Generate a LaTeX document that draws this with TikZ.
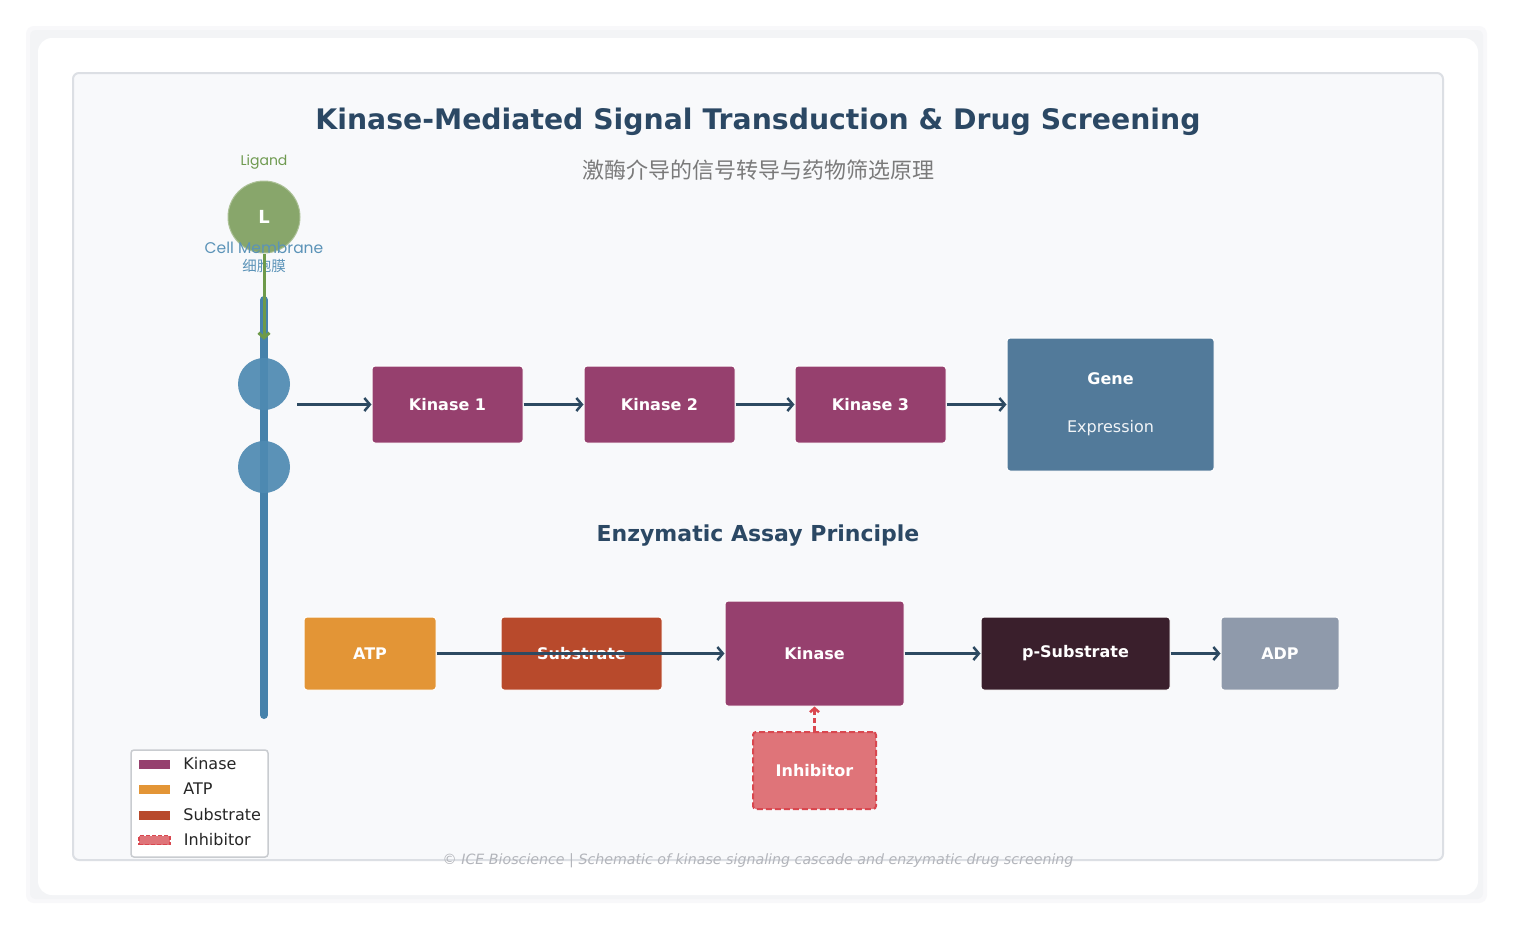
\documentclass[tikz,border=0pt]{standalone}
\usepackage{fontspec}
\setmainfont{DejaVu Sans}
\newfontfamily\cjkfont{Noto Sans CJK SC}
\newfontfamily\roundfont{Poppins}
\usetikzlibrary{arrows.meta}
\definecolor{pagegray}{HTML}{F3F4F6}
\definecolor{panelbg}{HTML}{F8F9FB}
\definecolor{panelline}{HTML}{DCDFE4}
\definecolor{titleblue}{HTML}{2B4864}
\definecolor{subgray}{HTML}{7A7A7A}
\definecolor{ligandgreen}{HTML}{88A66B}
\definecolor{ligandtext}{HTML}{6F9A50}
\definecolor{arrowgreen}{HTML}{6E9A4A}
\definecolor{membrane}{HTML}{4682AB}
\definecolor{receptor}{HTML}{4E8AB2}
\definecolor{membranetext}{HTML}{5B93B8}
\definecolor{kinasecol}{HTML}{96406E}
\definecolor{genecol}{HTML}{527A9A}
\definecolor{atpcol}{HTML}{E39536}
\definecolor{substratecol}{HTML}{B84A2C}
\definecolor{psubcol}{HTML}{3A1F2C}
\definecolor{adpcol}{HTML}{8F9AAB}
\definecolor{inhibcol}{HTML}{DF7479}
\definecolor{inhibline}{HTML}{D9474F}
\definecolor{flowcol}{HTML}{2D4A62}
\definecolor{footgray}{HTML}{B3B5BB}

\begin{document}
\begin{tikzpicture}[x=1pt, y=-1pt,
  box/.style={rectangle, rounded corners=3pt, draw=white, line width=1pt, text=white,
    inner sep=0pt, font=\bfseries\fontsize{16}{19}\selectfont},
  flow/.style={draw=flowcol, line width=2.5pt, -{Straight Barb[length=5.5pt, width=13pt]}},
  swatch/.style={minimum width=31pt, inner sep=0pt}]
	% page and card
	\fill[white] (0,0) rectangle (1514,930);
	\fill[pagegray!60, rounded corners=8pt] (26,26) rectangle (1487,903);
	\fill[pagegray, rounded corners=6pt] (30,30) rectangle (1483,899);
	\fill[white, rounded corners=14pt] (38,38) rectangle (1478,895);
	\draw[panelline, fill=panelbg, line width=2pt, rounded corners=6pt] (73,73) rectangle (1443,860);
	% titles
	\node[text=titleblue, font=\bfseries\fontsize{28.3}{33}\selectfont] (title) at (758,122) {Kinase-Mediated Signal Transduction \& Drug Screening};
	\node[text=subgray, font=\cjkfont\fontsize{22}{26}\selectfont] (subtitle) at (758,170) {激酶介导的信号转导与药物筛选原理};
	% membrane and ligand
	\coordinate (memtop) at (264,300);
	\coordinate (membot) at (264,715);
	\draw[membrane, line width=8pt, line cap=round] (memtop) -- (membot);
	\node[circle, fill=receptor, opacity=0.92, minimum size=52pt, inner sep=0pt] (rec1) at (264,384) {};
	\node[circle, fill=receptor, opacity=0.92, minimum size=52pt, inner sep=0pt] (rec2) at (264,467) {};
	\node[text=ligandtext, font=\roundfont\fontsize{14}{16}\selectfont] (ligtext) at (264,162) {Ligand};
	\node[circle, fill=ligandgreen, draw=ligandgreen!70!white, line width=1pt, minimum size=72pt, inner sep=0pt,
	  text=white, font=\bfseries\fontsize{18}{20}\selectfont] (lig) at (264,217) {L};
	\node[text=membranetext, font=\roundfont\fontsize{15.5}{18}\selectfont] (memtext) at (264,248) {Cell Membrane};
	\node[text=membranetext, font=\cjkfont\fontsize{14.5}{16}\selectfont] (memcjk) at (264,266) {细胞膜};
	\draw[arrowgreen, line width=3pt, -{Straight Barb[length=5pt, width=11pt]}] (lig.south) -- ([yshift=18pt]rec1.north);
	% signalling cascade
	\node[box, fill=kinasecol, minimum width=151pt, minimum height=77pt] (k1) at (447.5,404.5) {Kinase 1};
	\node[box, fill=kinasecol, minimum width=151pt, minimum height=77pt] (k2) at (659.5,404.5) {Kinase 2};
	\node[box, fill=kinasecol, minimum width=151pt, minimum height=77pt] (k3) at (870.5,404.5) {Kinase 3};
	\node[box, fill=genecol, minimum width=207pt, minimum height=133pt, align=center] (gene) at (1110.5,404.5)
	  {Gene\\[29pt]{\normalfont\color{white!92!genecol}Expression}};
	\draw[flow] ([xshift=7pt]rec1.east |- k1.west) -- (k1.west);
	\draw[flow] (k1) -- (k2);
	\draw[flow] (k2) -- (k3);
	\draw[flow] (k3.east) -- (k3.east -| gene.west);
	% assay
	\node[text=titleblue, font=\bfseries\fontsize{22}{26}\selectfont] (assay) at (758,536) {Enzymatic Assay Principle};
	\node[box, fill=atpcol, minimum width=132pt, minimum height=73pt] (atp) at (370,653.5) {ATP};
	\node[box, fill=substratecol, minimum width=161pt, minimum height=73pt] (sub) at (581.5,653.5) {Substrate};
	\node[box, fill=kinasecol, minimum width=179pt, minimum height=105pt] (kin) at (814.5,653.5) {Kinase};
	\node[box, fill=psubcol, minimum width=189pt, minimum height=73pt] (psub) at (1075.5,653.5) {p-Substrate};
	\node[box, fill=adpcol, minimum width=118pt, minimum height=73pt] (adp) at (1280,653.5) {ADP};
	\node[box, fill=inhibcol, draw=inhibline, line width=2pt, dashed, dash pattern=on 6pt off 3pt,
	  minimum width=123pt, minimum height=77pt] (inhib) at (814.5,770.5) {Inhibitor};
	\draw[flow] (atp) -- (kin);
	\draw[flow] (kin) -- (psub);
	\draw[flow] (psub) -- (adp);
	\draw[inhibline, line width=2.5pt, dash pattern=on 5pt off 3pt, -{Straight Barb[length=4pt, width=9pt]}] (inhib) -- (kin);
	% legend
	\draw[panelline!80!gray, fill=white, line width=1.5pt, rounded corners=3pt] (131,750) rectangle (268,857);
	\node[swatch, fill=kinasecol, minimum height=9pt] (lk) at (154.5,764) {};
	\node[swatch, fill=atpcol, minimum height=9pt] (la) at (154.5,789) {};
	\node[swatch, fill=substratecol, minimum height=9pt] (ls) at (154.5,815) {};
	\node[swatch, fill=inhibcol, draw=inhibline, line width=1.5pt, dash pattern=on 4pt off 2pt, minimum height=9pt] (li) at (154.5,840) {};
	\foreach \n/\t in {lk/Kinase, la/ATP, ls/Substrate, li/Inhibitor}
	  \node[anchor=west, text=black!85, font=\fontsize{16}{19}\selectfont, inner sep=0pt] at ([xshift=13pt]\n.east) {\t};
	% footer
	\node[text=footgray, font=\itshape\fontsize{14.2}{16}\selectfont] (footer) at (758,861) {© ICE Bioscience | Schematic of kinase signaling cascade and enzymatic drug screening};
\end{tikzpicture}
\end{document}
